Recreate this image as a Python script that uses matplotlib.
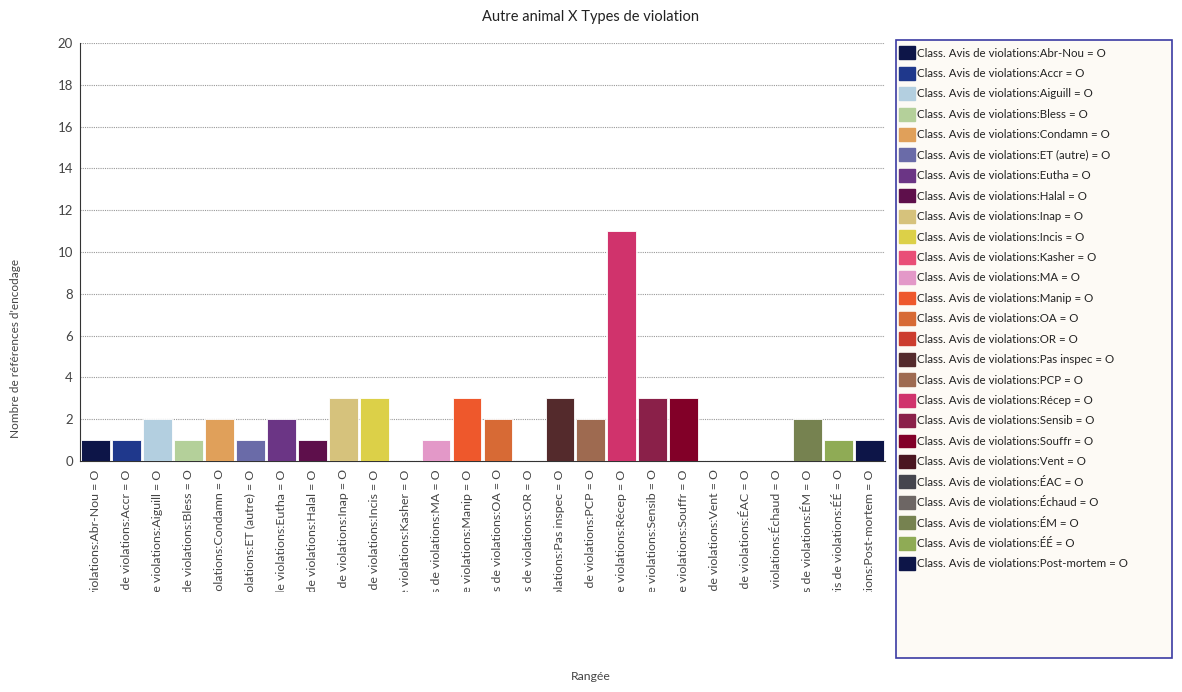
import matplotlib
matplotlib.use("Agg")
import matplotlib.pyplot as plt
from matplotlib.patches import Patch, Rectangle
from matplotlib.transforms import Bbox, TransformedBbox
import numpy as np

plt.rcParams['font.family'] = ['Lato', 'DejaVu Sans']

categories = ["Abr-Nou", "Accr", "Aiguill", "Bless", "Condamn", "ET (autre)", "Eutha",
              "Halal", "Inap", "Incis", "Kasher", "MA", "Manip", "OA", "OR",
              "Pas inspec", "PCP", "Récep", "Sensib", "Souffr", "Vent", "ÉAC",
              "Échaud", "ÉM", "ÉÉ", "Post-mortem"]
values = [1, 1, 2, 1, 2, 1, 2, 1, 3, 3, 0, 1, 3, 2, 0, 3, 2, 11, 3, 3, 0, 0, 0, 2, 1, 1]
colors = ["#0d1548", "#1f388c", "#b3cfe0", "#b4d09a", "#e0a05a", "#6a6ba8", "#6b3585",
          "#5e0f4b", "#d6c27c", "#dcd048", "#e94e77", "#e398c8", "#ee582c", "#d76a35",
          "#cc3c2e", "#542a2c", "#9e6a50", "#d0336c", "#8a2049", "#820028", "#4a1520",
          "#45454e", "#6d6664", "#768250", "#8fab55", "#0d1548"]
labels = ["Class. Avis de violations:%s = O" % c for c in categories]

W, H = 1182, 692
fig = plt.figure(figsize=(W / 100, H / 100), dpi=100)
ax = fig.add_axes([80 / W, 1 - 461 / H, 805 / W, 418 / H])

x = np.arange(len(categories))
ax.bar(x, values, width=0.93, color=colors, edgecolor="white", linewidth=0.6, zorder=3)

ax.set_xlim(-0.5, len(categories) - 0.5)
ax.set_ylim(0, 20)
ax.set_yticks(range(0, 21, 2))
ax.grid(axis="y", linestyle=(0, (1, 1)), color="#999999", linewidth=0.8, zorder=0)
for s in ["top", "right"]:
    ax.spines[s].set_visible(False)
ax.spines["left"].set_color("#333333")
ax.spines["bottom"].set_color("#333333")
ax.tick_params(axis="y", length=0, labelsize=9.5, colors="#444444", pad=5)
ax.tick_params(axis="x", length=0, labelsize=8.9, colors="#444444", pad=6)

ax.set_xticks(x)
ax.set_xticklabels(labels, rotation=90, va="top", ha="center")
# the labels are cut off below the tick area, as in the original
clip = TransformedBbox(Bbox([[0, 1 - 592 / H], [1, 1 - 462 / H]]), fig.transFigure)
for t in ax.get_xticklabels():
    t.set_clip_on(True)
    t.set_clip_box(clip)

fig.text(591 / W, 1 - 17 / H, "Autre animal X Types de violation", ha="center",
         va="center", fontsize=10.5, color="#222222")
fig.text(16 / W, 1 - 348 / H, "Nombre de références d'encodage", rotation=90,
         ha="center", va="center", fontsize=8.5, color="#444444")
fig.text(591 / W, 1 - 677 / H, "Rangée", ha="center", va="center", fontsize=8.8,
         color="#444444")

# legend box
fig.patches.append(Rectangle((896 / W, 1 - 658 / H), 276 / W, 618 / H,
                             transform=fig.transFigure, facecolor="#fdfaf5",
                             edgecolor="#3b3ba3", linewidth=1.2, zorder=0))
handles = [Patch(facecolor=c, edgecolor=c) for c in colors]
fig.legend(handles, labels, loc="upper left", bbox_to_anchor=(897 / W, 1 - 44 / H),
           frameon=False, fontsize=8.3, labelspacing=0.65, handlelength=1.35,
           handleheight=1.35, handletextpad=0.2, borderaxespad=0, borderpad=0.2,
           labelcolor="#222222")

fig.savefig("out.png", dpi=100)
